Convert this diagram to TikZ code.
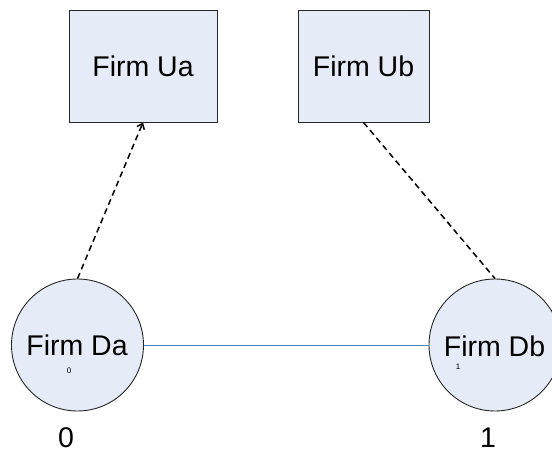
\documentclass[tikz,border=0pt]{standalone}
\usepackage{fontspec}
\setmainfont{Liberation Sans}
\usetikzlibrary{arrows.meta}
\definecolor{boxfill}{HTML}{E6ECF7}
\definecolor{linkblue}{HTML}{4F81BD}
\tikzset{
  bigfont/.style={font=\fontsize{28.5}{31}\selectfont},
  firmbox/.style={draw=black!85, line width=0.9pt, fill=boxfill, minimum width=148pt, minimum height=112pt, inner sep=0pt, bigfont},
  firmcirc/.style={circle, draw=black!85, line width=0.9pt, fill=boxfill, minimum size=132pt, inner sep=0pt},
  circtext/.style={inner sep=0pt, bigfont},
  tinylabel/.style={inner sep=0pt, font=\fontsize{8}{9}\selectfont},
  axislabel/.style={inner sep=0pt, bigfont},
  dashlink/.style={line width=1.5pt, dash pattern=on 6pt off 4pt},
  plainlink/.style={draw=linkblue, line width=1pt}
}
\begin{document}
\begin{tikzpicture}[x=1pt,y=-1pt]
\useasboundingbox (0,0) rectangle (552,457);
\node[firmbox] (ua) at (143,66) {Firm Ua};
\node[firmbox, minimum width=131pt] (ub) at (363.5,66) {Firm Ub};
\node[firmcirc] (da) at (77.5,345) {};
\node[firmcirc] (db) at (495,345) {};
\node[circtext] (dat) at (77,345) {Firm Da};
\node[circtext] (dbt) at (494.5,346) {Firm Db};
\node[tinylabel] (d0) at (69,371) {0};
\node[tinylabel] (d1) at (458,367) {1};
\node[axislabel] (l0) at (66,438) {0};
\node[axislabel] (l1) at (488,437.5) {1};
\draw[plainlink] (da.east) -- (db.west);
\draw[dashlink, -{Straight Barb[length=5pt,width=8pt]}] (da.north) -- (ua.south);
\draw[dashlink] (ub.south) -- (db.north);
\end{tikzpicture}
\end{document}
